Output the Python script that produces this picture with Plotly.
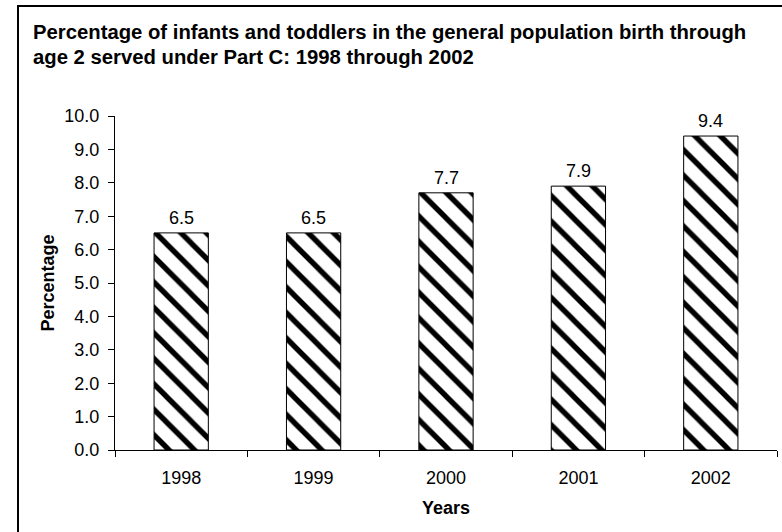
import plotly.graph_objects as go

years = ["1998", "1999", "2000", "2001", "2002"]
percentages = [6.5, 6.5, 7.7, 7.9, 9.4]
y_ticks = [0, 1, 2, 3, 4, 5, 6, 7, 8, 9, 10]

title_line1 = "Percentage of infants and toddlers in the general population birth through"
title_line2 = "age 2 served under Part C: 1998 through 2002"

FONT = "Liberation Sans, Arial, sans-serif"
W, H = 782, 532
L, R, T, B = 115, 5, 116, 82
pw, ph = W - L - R, H - T - B

def px(x):
    return (x - L) / pw

def py(y):
    return (H - B - y) / ph

fig = go.Figure()
fig.add_trace(go.Bar(
    x=years,
    y=percentages,
    width=0.41,
    marker=dict(
        color="white",
        line=dict(color="black", width=1),
        pattern=dict(shape="\\", fgcolor="black", bgcolor="white", fgopacity=1,
                     size=18, solidity=0.3),
    ),
    hoverinfo="x+y",
))

annotations = [
    dict(text=f"{v:.1f}", x=i, y=v, xref="x", yref="y", yanchor="bottom",
         showarrow=False, yshift=3, font=dict(family=FONT, size=18, color="black"))
    for i, v in enumerate(percentages)
]
annotations += [
    dict(text="<b>" + title_line1 + "</b>", xref="paper", yref="paper",
         x=px(31), y=py(32), xanchor="left", yanchor="middle", showarrow=False,
         font=dict(family=FONT, size=20.3, color="black")),
    dict(text="<b>" + title_line2 + "</b>", xref="paper", yref="paper",
         x=px(31), y=py(57), xanchor="left", yanchor="middle", showarrow=False,
         font=dict(family=FONT, size=20.3, color="black")),
]

fig.update_layout(
    width=W, height=H,
    margin=dict(l=L, r=R, t=T, b=B),
    paper_bgcolor="white",
    plot_bgcolor="white",
    showlegend=False,
    font=dict(family=FONT, size=18, color="black"),
    xaxis=dict(
        type="category",
        range=[-0.5, len(years) - 0.5],
        showline=True, linecolor="black", linewidth=1,
        ticks="outside", ticklen=6, tickcolor="black", tickson="boundaries",
        ticklabelstandoff=11,
        tickfont=dict(family=FONT, size=18, color="black"),
        showgrid=False, zeroline=False,
        title=dict(text="<b>Years</b>", font=dict(family=FONT, size=18), standoff=14),
    ),
    yaxis=dict(
        range=[0, 10],
        tickvals=y_ticks,
        tickformat=".1f",
        showline=True, linecolor="black", linewidth=1,
        ticks="outside", ticklen=6, tickcolor="black",
        ticklabelstandoff=5,
        tickfont=dict(family=FONT, size=18, color="black"),
        showgrid=False, zeroline=False,
        title=dict(text="<b>Percentage</b>", font=dict(family=FONT, size=18), standoff=5),
    ),
    shapes=[dict(
        type="rect", xref="paper", yref="paper",
        x0=px(18), x1=px(800), y0=py(560), y1=py(6),
        line=dict(color="black", width=2), fillcolor="rgba(0,0,0,0)", layer="below",
    )],
    annotations=annotations,
)

fig.write_html(
    "out.html",
    config={"displayModeBar": False},
    post_script="document.body.style.margin='0px';document.body.style.overflow='hidden';",
)
